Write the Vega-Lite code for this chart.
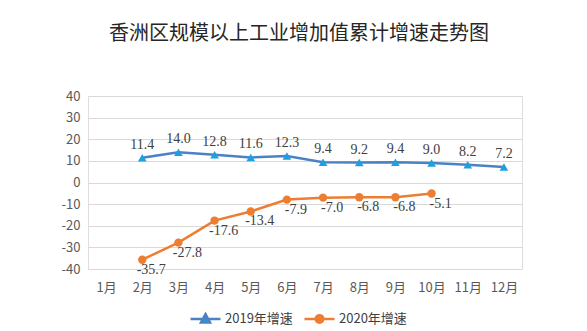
{
  "$schema": "https://vega.github.io/schema/vega-lite/v6.json",
  "width": 434,
  "height": 173,
  "autosize": {"type": "none"},
  "padding": {"left": 88, "top": 96, "right": 65, "bottom": 62},
  "background": "white",
  "title": {
    "text": "香洲区规模以上工业增加值累计增速走势图",
    "font": "Noto Sans CJK SC",
    "fontSize": 20,
    "fontWeight": "normal",
    "color": "#262626",
    "anchor": "middle",
    "dx": -6,
    "offset": 46
  },
  "data": {
    "values": [
      {"month": "2月", "series": "2019年增速", "value": 11.4},
      {"month": "3月", "series": "2019年增速", "value": 14.0},
      {"month": "4月", "series": "2019年增速", "value": 12.8},
      {"month": "5月", "series": "2019年增速", "value": 11.6},
      {"month": "6月", "series": "2019年增速", "value": 12.3},
      {"month": "7月", "series": "2019年增速", "value": 9.4},
      {"month": "8月", "series": "2019年增速", "value": 9.2},
      {"month": "9月", "series": "2019年增速", "value": 9.4},
      {"month": "10月", "series": "2019年增速", "value": 9.0},
      {"month": "11月", "series": "2019年增速", "value": 8.2},
      {"month": "12月", "series": "2019年增速", "value": 7.2},
      {"month": "2月", "series": "2020年增速", "value": -35.7},
      {"month": "3月", "series": "2020年增速", "value": -27.8},
      {"month": "4月", "series": "2020年增速", "value": -17.6},
      {"month": "5月", "series": "2020年增速", "value": -13.4},
      {"month": "6月", "series": "2020年增速", "value": -7.9},
      {"month": "7月", "series": "2020年增速", "value": -7.0},
      {"month": "8月", "series": "2020年增速", "value": -6.8},
      {"month": "9月", "series": "2020年增速", "value": -6.8},
      {"month": "10月", "series": "2020年增速", "value": -5.1}
    ]
  },
  "transform": [
    {"calculate": "replace(format(datum.value, '.1f'), '\u2212', '-')", "as": "label"}
  ],
  "encoding": {
    "x": {
      "field": "month",
      "type": "ordinal",
      "scale": {
        "type": "point",
        "padding": 0.5,
        "domain": ["1月", "2月", "3月", "4月", "5月", "6月", "7月", "8月", "9月", "10月", "11月", "12月"]
      },
      "axis": {
        "title": null,
        "labelAngle": 0,
        "domain": false,
        "ticks": false,
        "grid": false,
        "labelFont": "Noto Sans CJK SC",
        "labelFontSize": 13,
        "labelColor": "#595959",
        "labelPadding": 12
      }
    },
    "y": {
      "field": "value",
      "type": "quantitative",
      "scale": {"domain": [-40, 40], "nice": false},
      "axis": {
        "title": null,
        "values": [-40, -30, -20, -10, 0, 10, 20, 30, 40],
        "labelExpr": "replace(datum.label, '\u2212', '-')",
        "domain": false,
        "ticks": false,
        "grid": true,
        "gridColor": "#d9d9d9",
        "gridWidth": 1,
        "labelFont": "Noto Sans CJK SC",
        "labelFontSize": 13,
        "labelColor": "#595959",
        "labelPadding": 8
      }
    }
  },
  "layer": [
    {
      "mark": {"type": "line", "strokeWidth": 2.5},
      "encoding": {
        "color": {
          "field": "series",
          "type": "nominal",
          "scale": {"domain": ["2019年增速", "2020年增速"], "range": ["#4a82c4", "#ed7d31"]},
          "legend": {
            "title": null,
            "orient": "none",
            "legendX": 101,
            "legendY": 206,
            "direction": "horizontal",
            "symbolSize": 900,
            "symbolStrokeWidth": 2.5,
            "labelFont": "Noto Sans CJK SC",
            "labelFontSize": 13,
            "labelColor": "#404040",
            "columnPadding": 6,
            "labelOffset": 3,
            "encode": {
              "symbols": {
                "update": {
                  "shape": {"signal": "datum.value == '2019年增速' ? 'M-1,0H1M0,-0.33L0.3,0.22H-0.3Z' : 'M-1,0H1M0.25,0A0.25,0.25 0 1,1 -0.25,0A0.25,0.25 0 1,1 0.25,0Z'"},
                  "fill": {"signal": "datum.value == '2019年增速' ? '#1e9fe0' : '#ed7d31'"},
                  "opacity": {"value": 1}
                }
              }
            }
          }
        }
      }
    },
    {
      "transform": [{"filter": "datum.series == '2019年增速'"}],
      "mark": {"type": "point", "shape": "triangle-up", "filled": true, "opacity": 1, "size": 75, "color": "#1e9fe0"}
    },
    {
      "transform": [{"filter": "datum.series == '2020年增速'"}],
      "mark": {"type": "point", "shape": "circle", "filled": true, "opacity": 1, "size": 70, "color": "#ed7d31"}
    },
    {
      "transform": [{"filter": "datum.series == '2019年增速'"}],
      "mark": {"type": "text", "dy": -13, "font": "Liberation Serif", "fontSize": 14, "color": "#404040"},
      "encoding": {"text": {"field": "label", "type": "nominal"}}
    },
    {
      "transform": [{"filter": "datum.series == '2020年增速'"}],
      "mark": {"type": "text", "dy": 10, "dx": 9, "font": "Liberation Serif", "fontSize": 14, "color": "#404040"},
      "encoding": {"text": {"field": "label", "type": "nominal"}}
    }
  ]
}
